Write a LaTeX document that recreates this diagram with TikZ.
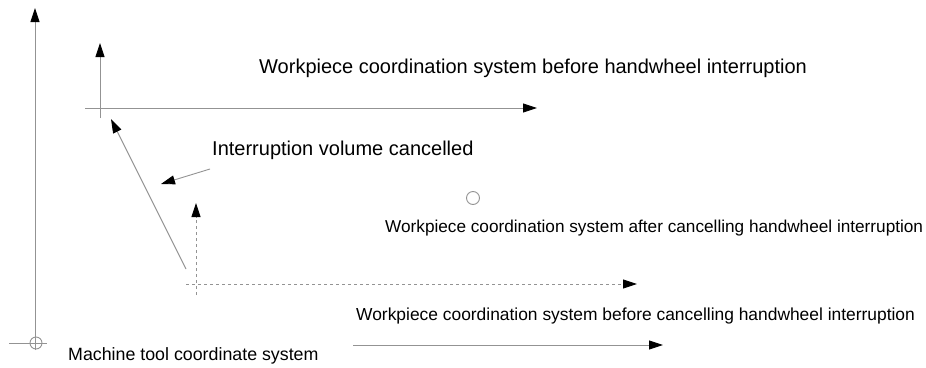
\documentclass[tikz,border=0pt]{standalone}
\usepackage{fontspec}
\setmainfont{Liberation Sans}
\usetikzlibrary{arrows.meta}

\tikzset{
  axis/.style={draw=gray!85, line width=0.9pt,
    -{Triangle[length=14pt,width=9pt,color=black]}},
  plain/.style={draw=gray!85, line width=0.9pt},
  bigtext/.style={anchor=base west, inner sep=0pt, font=\fontsize{20}{24}\selectfont},
  smalltext/.style={anchor=base west, inner sep=0pt, font=\fontsize{17.2}{20}\selectfont}
}

\begin{document}
\begin{tikzpicture}[x=1pt,y=-1pt]
        \useasboundingbox (0,0) rectangle (926,367);
        % machine tool system
        \coordinate (mo) at (36,343);
        \coordinate (myb) at (35,350);
        \coordinate (myt) at (35,8);
        \coordinate (mxl) at (9,343);
        \coordinate (mxr) at (47,343);
        \draw[axis] (myb) -- (myt);
        \draw[plain] (mxl) -- (mxr);
        \draw[plain] (mo) circle (6);
        \coordinate (mxs) at (353,345);
        \coordinate (mxe) at (663,345);
        \draw[axis] (mxs) -- (mxe);
        \node[smalltext,font=\fontsize{17.8}{20}\selectfont] (mlabel) at (68,360) {Machine tool coordinate system};
        % before handwheel interruption
        \coordinate (ayb) at (100,118);
        \coordinate (ayt) at (100,43);
        \coordinate (axl) at (85,108);
        \coordinate (axr) at (537,108);
        \draw[axis] (ayb) -- (ayt);
        \draw[axis] (axl) -- (axr);
        \node[bigtext] (alabel) at (259,73) {Workpiece coordination system before handwheel interruption};
        % before cancelling
        \coordinate (byb) at (196,295);
        \coordinate (byt) at (196,203);
        \coordinate (bxl) at (186,284);
        \coordinate (bxr) at (637,284);
        \draw[axis,dashed] (byb) -- (byt);
        \draw[axis,dashed] (bxl) -- (bxr);
        \node[smalltext,font=\fontsize{17.4}{20}\selectfont] (blabel) at (356,320) {Workpiece coordination system before cancelling handwheel interruption};
        % cancelled volume
        \coordinate (vs) at (186,269);
        \coordinate (ve) at (111,119);
        \draw[axis] (vs) -- (ve);
        \coordinate (ps) at (210,169);
        \coordinate (pe) at (161,184);
        \draw[axis] (ps) -- (pe);
        \node[bigtext] (vlabel) at (212,155) {Interruption volume cancelled};
        % after cancelling
        \draw[plain] (473,198) circle (6.5);
        \node[smalltext] (clabel) at (385,232) {Workpiece coordination system after cancelling handwheel interruption};
      \end{tikzpicture}
\end{document}
